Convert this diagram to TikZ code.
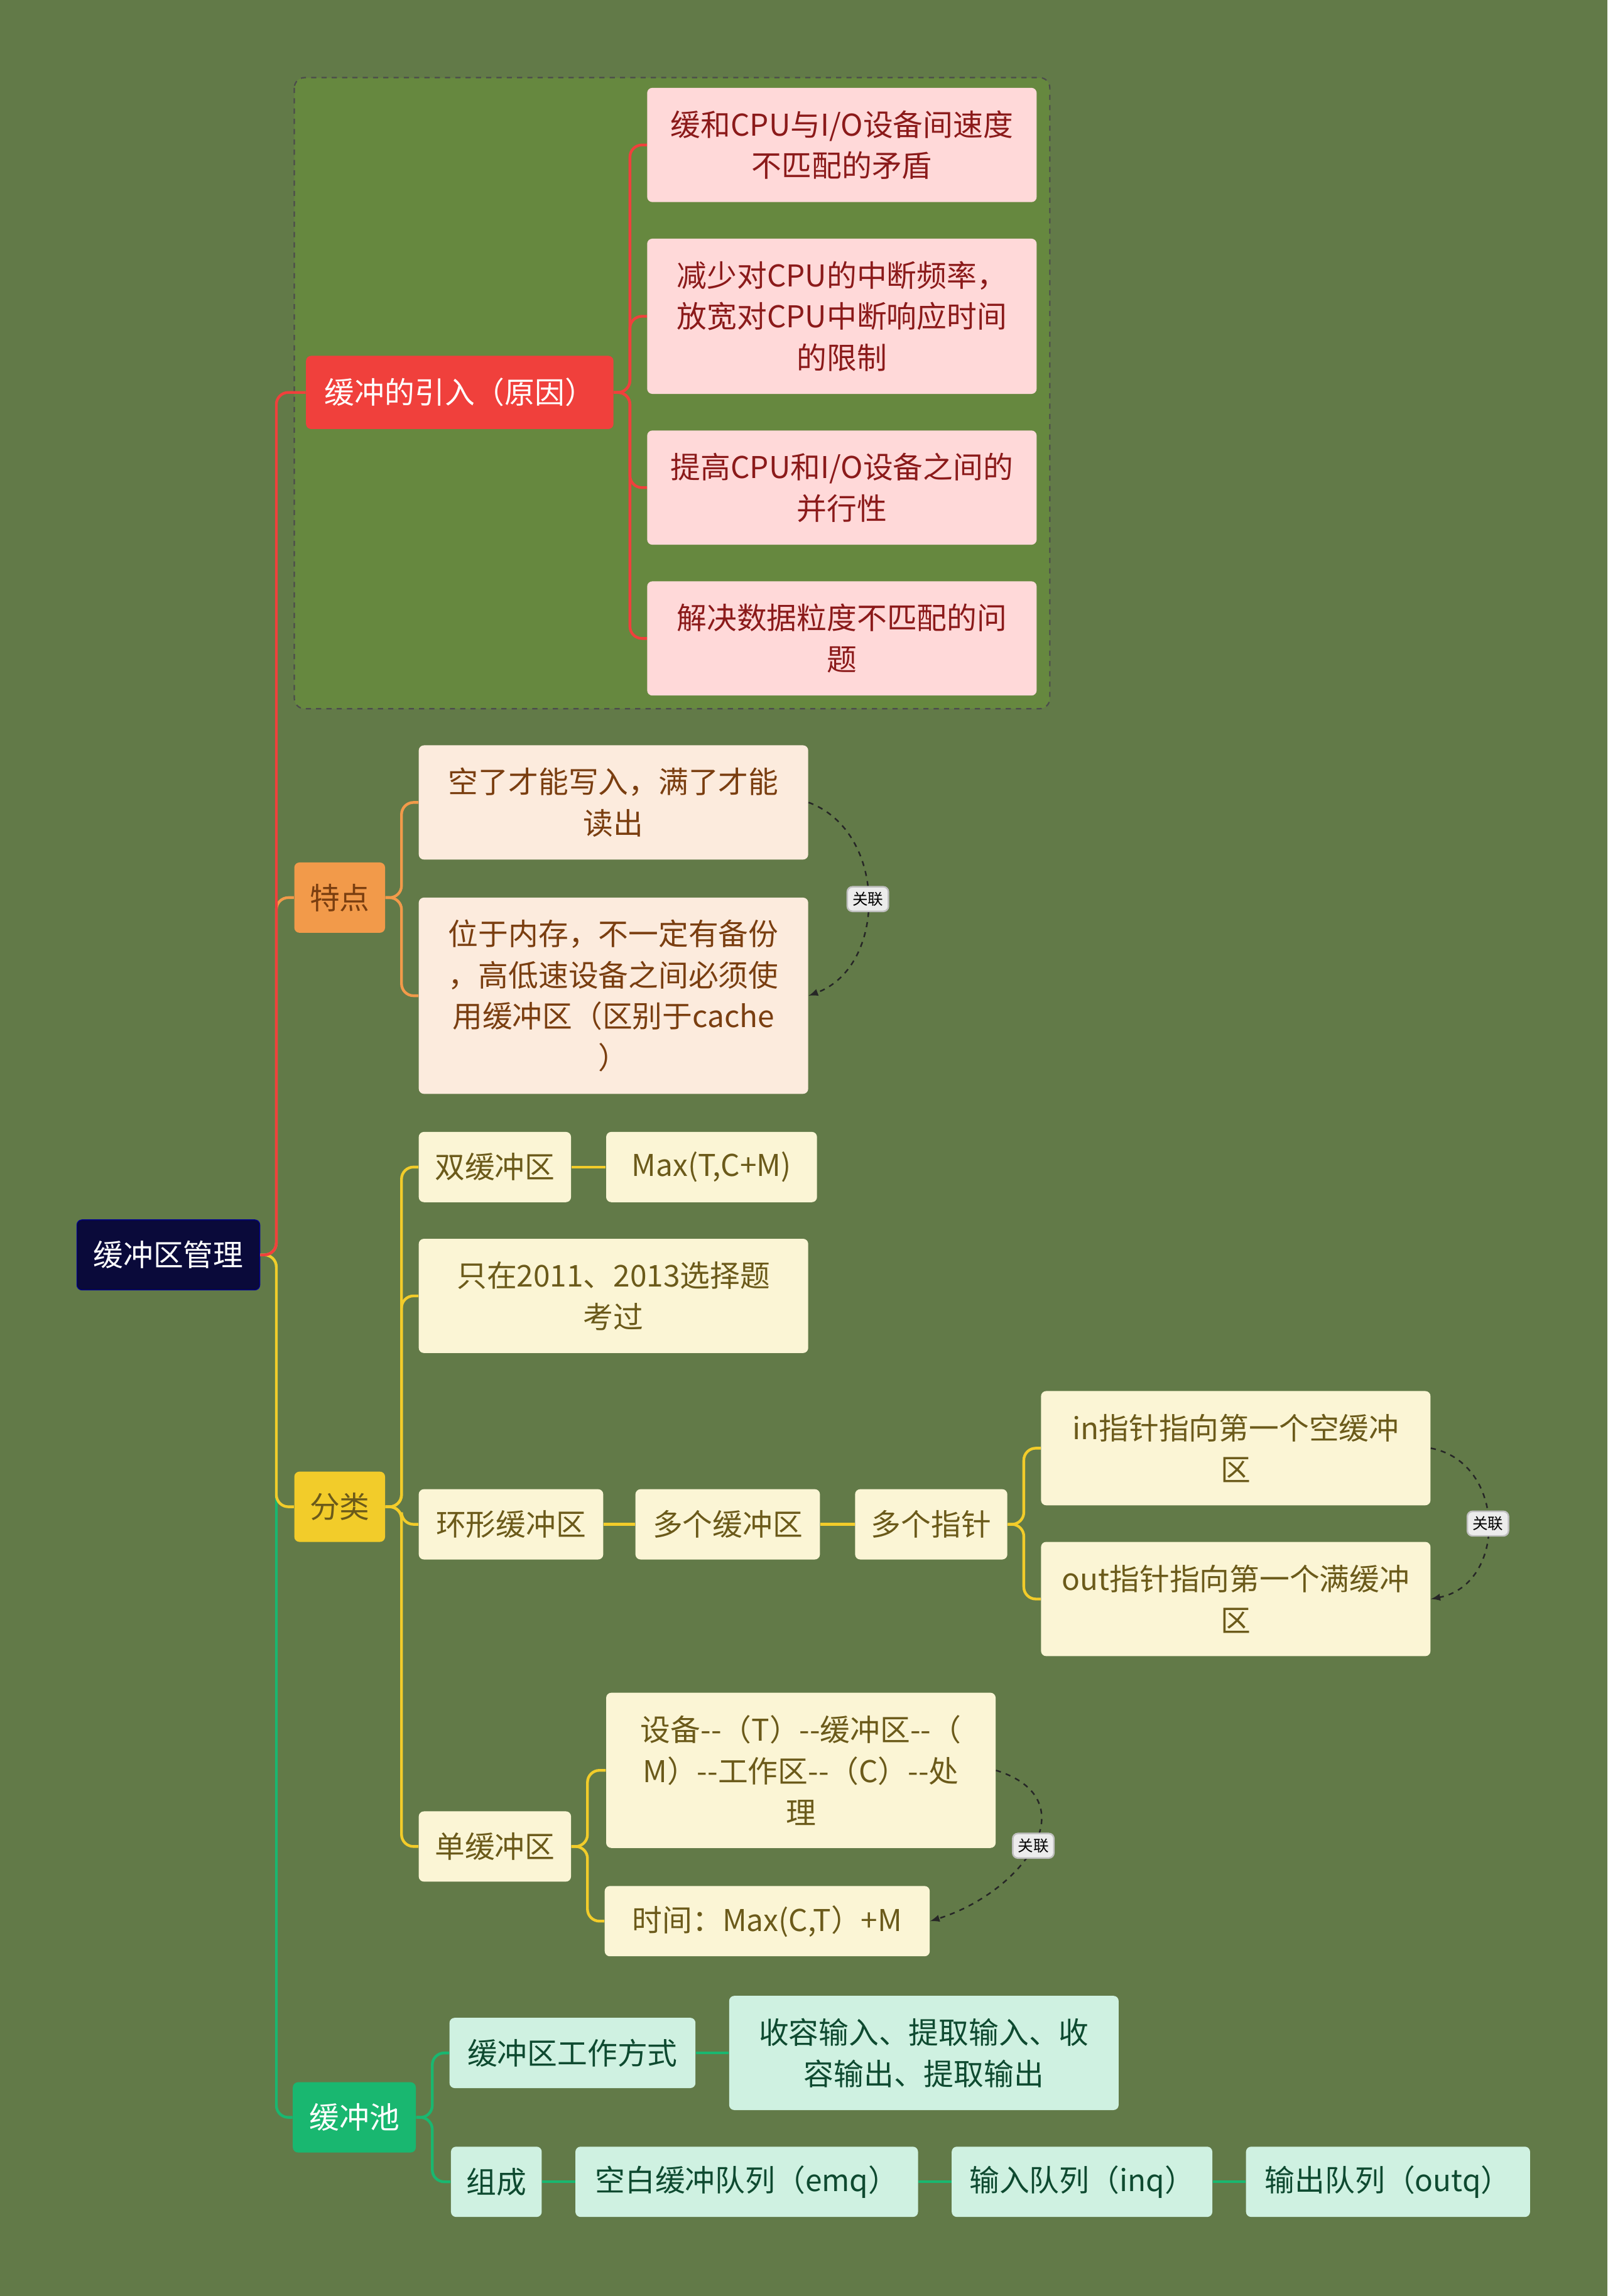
\documentclass[tikz,border=0pt]{standalone}
\usepackage{fontspec}
\setmainfont{Noto Sans CJK SC}
\usetikzlibrary{positioning}
\definecolor{bgc}{HTML}{627A48}
\definecolor{boxc}{HTML}{66883F}
\definecolor{redc}{HTML}{F0403C}
\definecolor{redl}{HTML}{FFD9D9}
\definecolor{redt}{HTML}{8B1A1A}
\definecolor{orac}{HTML}{F29A4A}
\definecolor{oral}{HTML}{FCEBDD}
\definecolor{orat}{HTML}{7A3E10}
\definecolor{yelc}{HTML}{F2CC2A}
\definecolor{yell}{HTML}{FBF5D5}
\definecolor{yelt}{HTML}{6B5A1A}
\definecolor{grec}{HTML}{19B770}
\definecolor{grel}{HTML}{CFF1E1}
\definecolor{gret}{HTML}{0E4A30}
\definecolor{rootc}{HTML}{0A0A3A}

\begin{document}
\begin{tikzpicture}[
    x=0.03cm, y=-0.03cm,
    font=\fontsize{17.5}{24}\selectfont,
    box/.style={rectangle, rounded corners=3pt, inner sep=0pt, align=center, minimum height=48*0.03cm},
    wd/.style={minimum width=#1*0.03cm},
    ht/.style={minimum height=#1*0.03cm},
    redbox/.style={box, fill=redl, text=redt},
    orabox/.style={box, fill=oral, text=orat},
    yelbox/.style={box, fill=yell, text=yelt},
    grebox/.style={box, fill=grel, text=gret},
    link/.style={line width=1.6pt, rounded corners=7pt},
    rel/.style={->, >=latex, dashed, line width=0.9pt, black!85},
    tag/.style={rectangle, rounded corners=3pt, fill=gray!15, draw=gray!50, font=\fontsize{9}{10}\selectfont, inner sep=3pt}
]
    \fill[bgc] (0,0) rectangle (1098,1568);
    \useasboundingbox (0,0) rectangle (1098,1568);
    \draw[dashed, fill=boxc, draw=black!70, rounded corners=6pt, line width=0.8pt] (201,53) rectangle (717,484);

    % root
    \node[box, wd=125, fill=rootc, draw=blue!60!black, text=white] (root) at (115,857) {缓冲区管理};

    % reasons
    \node[box, wd=210, ht=50, fill=redc, text=white] (reason) at (314,268) {缓冲的引入（原因）};
    \node[redbox, wd=266, ht=78] (rsn1) at (575,99) {缓和CPU与I/O设备间速度\\不匹配的矛盾};
    \node[redbox, wd=266, ht=106] (rsn2) at (575,216) {减少对CPU的中断频率，\\放宽对CPU中断响应时间\\的限制};
    \node[redbox, wd=266, ht=78] (rsn3) at (575,333) {提高CPU和I/O设备之间的\\并行性};
    \node[redbox, wd=266, ht=78] (rsn4) at (575,436) {解决数据粒度不匹配的问\\题};

    % features
    \node[box, wd=62, fill=orac, text=orat] (feat) at (232,613) {特点};
    \node[orabox, wd=266, ht=78] (feat1) at (419,548) {空了才能写入，满了才能\\读出};
    \node[orabox, wd=266, ht=134] (feat2) at (419,680) {位于内存，不一定有备份\\，高低速设备之间必须使\\用缓冲区（区别于cache\\）};

    % kinds
    \node[box, wd=62, fill=yelc, text=yelt] (kind) at (232,1029) {分类};
    \node[yelbox, wd=104] (dbl) at (338,797) {双缓冲区};
    \node[yelbox, wd=144] (dblmax) at (486,797) {Max(T,C+M)};
    \node[yelbox, wd=266, ht=78] (exam) at (419,885) {只在2011、2013选择题\\考过};
    \node[yelbox, wd=126] (ring) at (349,1041) {环形缓冲区};
    \node[yelbox, wd=126] (ringbuf) at (497,1041) {多个缓冲区};
    \node[yelbox, wd=104] (ringptr) at (636,1041) {多个指针};
    \node[yelbox, wd=266, ht=78] (inptr) at (844,989) {in指针指向第一个空缓冲\\区};
    \node[yelbox, wd=266, ht=78] (outptr) at (844,1092) {out指针指向第一个满缓冲\\区};
    \node[yelbox, wd=104] (single) at (338,1261) {单缓冲区};
    \node[yelbox, wd=266, ht=106] (flow) at (547,1209) {设备{-}{-}（T）{-}{-}缓冲区{-}{-}（\\M）{-}{-}工作区{-}{-}（C）{-}{-}处\\理};
    \node[yelbox, wd=222] (stime) at (524,1312) {时间：Max(C,T）+M};

    % pool
    \node[box, wd=84, fill=grec, text=white] (pool) at (242,1446) {缓冲池};
    \node[grebox, wd=168] (mode) at (391,1402) {缓冲区工作方式};
    \node[grebox, wd=266, ht=78] (modes) at (631,1402) {收容输入、提取输入、收\\容输出、提取输出};
    \node[grebox, wd=62] (parts) at (339,1490) {组成};
    \node[grebox, wd=234] (emq) at (510,1490) {空白缓冲队列（emq）};
    \node[grebox, wd=178] (inq) at (739,1490) {输入队列（inq）};
    \node[grebox, wd=194] (outq) at (948,1490) {输出队列（outq）};

    % connectors
    \draw[link, grec] (root.east) -- ++(11,0) |- (pool.west);
    \draw[link, yelc] (root.east) -- ++(11,0) |- (kind.west);
    \draw[link, orac] (root.east) -- ++(11,0) |- (feat.west);
    \draw[link, redc] (root.east) -- ++(11,0) |- (reason.west);
    \foreach \c in {rsn1,rsn2,rsn3,rsn4}
        \draw[link, redc] (reason.east) -- ++(11,0) |- (\c.west);
    \foreach \c in {feat1,feat2}
        \draw[link, orac] (feat.east) -- ++(11,0) |- (\c.west);
    \foreach \c in {dbl,exam,ring,single}
        \draw[link, yelc] (kind.east) -- ++(11,0) |- (\c.west);
    \draw[link, yelc] (dbl) -- (dblmax);
    \draw[link, yelc] (ring) -- (ringbuf);
    \draw[link, yelc] (ringbuf) -- (ringptr);
    \foreach \c in {inptr,outptr}
        \draw[link, yelc] (ringptr.east) -- ++(11,0) |- (\c.west);
    \foreach \c in {flow,stime}
        \draw[link, yelc] (single.east) -- ++(11,0) |- (\c.west);
    \foreach \c in {mode,parts}
        \draw[link, grec] (pool.east) -- ++(11,0) |- (\c.west);
    \draw[link, grec] (mode) -- (modes);
    \draw[link, grec] (parts) -- (emq);
    \draw[link, grec] (emq) -- (inq);
    \draw[link, grec] (inq) -- (outq);

    % relations
    \draw[rel] (feat1.east) .. controls +(54,20) and +(54,-20) .. node[tag, solid, text=black] {关联} (feat2.east);
    \draw[rel] (inptr.east) .. controls +(52,10) and +(52,-10) .. node[tag, solid, text=black] {关联} (outptr.east);
    \draw[rel] (flow.east) .. controls +(64,20) and +(64,-20) .. node[tag, solid, text=black] {关联} (stime.east);
\end{tikzpicture}
\end{document}
